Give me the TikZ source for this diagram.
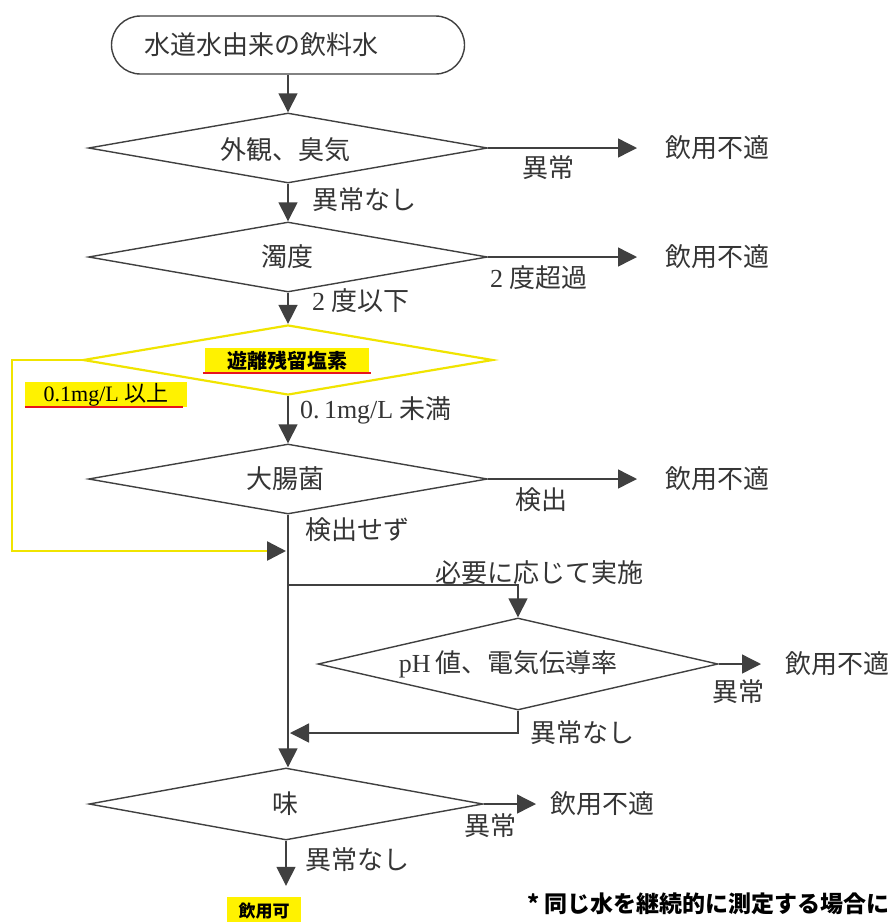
\documentclass[tikz,border=0pt]{standalone}
\usepackage{fontspec}
\setmainfont{Liberation Serif}
\newfontfamily\jp{Noto Sans CJK JP}
\usetikzlibrary{shapes.geometric,arrows.meta}
\definecolor{ln}{HTML}{404040}
\definecolor{tx}{HTML}{353535}
\definecolor{ylw}{HTML}{FFF200}
\definecolor{yline}{HTML}{F0E400}
\definecolor{redl}{HTML}{E8141E}
\begin{document}
\begin{tikzpicture}[x=1pt,y=-1pt,
  line/.style={draw=ln,line width=1.4pt},
  arr/.style={line,-{Triangle[length=19pt,width=19pt,color=ln]}},
  dia/.style={diamond,draw=ln,line width=1.4pt,inner sep=0pt},
  lab/.style={text=tx,inner sep=0pt,font=\fontsize{26}{28}\selectfont\jp},
  hl/.style={fill=ylw,inner sep=0pt,text=black},
  redu/.style={draw=redl,line width=2pt},
  yl/.style={draw=yline,line width=2.5pt}]
\useasboundingbox (0,0) rectangle (893,922);
\fill[white] (0,0) rectangle (893,922);

% start
\node[draw=ln,line width=1.4pt,rounded corners=29pt,minimum height=58pt,
  text width=287pt,inner xsep=33pt,align=left,text=tx,
  font=\fontsize{26}{28}\selectfont\jp] (st) at (288,45) {水道水由来の飲料水};

% diamonds
\node[dia,minimum width=399pt,minimum height=70pt] (d1) at (288,148) {};
\node[dia,minimum width=399pt,minimum height=70pt] (d2) at (288,257) {};
\node[dia,draw=yline,line width=2.2pt,minimum width=410pt,minimum height=70pt] (d3) at (288,360) {};
\node[dia,minimum width=399pt,minimum height=70pt] (d4) at (288,479) {};
\node[dia,minimum width=400pt,minimum height=92pt] (d5) at (518,664) {};
\node[dia,minimum width=394pt,minimum height=72pt] (d6) at (286,804) {};

\node[lab] (t1) at (285,150) {外観、臭気};
\node[lab] (t2) at (287,257) {濁度};
\node[lab] (t4) at (285,479) {大腸菌};
\node[lab] (t5) at (508,664) {{\rmfamily pH\,}値、電気伝導率};
\node[lab] (t6) at (285,804) {味};

% highlighted labels
\node[hl,minimum width=164pt,minimum height=25pt,font=\fontsize{20}{20}\selectfont\jp\bfseries] (t3) at (287,360.5) {遊離残留塩素};
\draw[redu] (t3.south west) ++(-2,0) -- ([xshift=2pt]t3.south east);
\node[hl,minimum width=162pt,minimum height=25pt,font=\fontsize{22}{22}\selectfont] (y1) at (106,394.5) {0.1mg/L {\jp 以上}};
\draw[redu] (y1.south west) -- ([xshift=-4pt]y1.south east);
\node[hl,minimum width=74pt,minimum height=28pt,font=\fontsize{17}{18}\selectfont\jp\bfseries] (ok) at (264,911) {飲用可};

% outcome nodes
\node[lab,anchor=west] (ng1) at (665,148) {飲用不適};
\node[lab,anchor=west] (ng2) at (665,257) {飲用不適};
\node[lab,anchor=west] (ng3) at (665,479) {飲用不適};
\node[lab,anchor=west] (ng4) at (785,664) {飲用不適};
\node[lab,anchor=west] (ng5) at (550,804) {飲用不適};

% edge labels
\node[lab] (l1) at (548,168) {異常};
\node[lab,anchor=west] (l2) at (312,200) {異常なし};
\node[lab,anchor=west] (l3) at (490,278) {{\rmfamily 2} 度超過};
\node[lab,anchor=west] (l4) at (312,301) {{\rmfamily 2} 度以下};
\node[lab,anchor=west] (l5) at (300,410) {{\rmfamily 0.\,1mg/L} 未満};
\node[lab] (l6) at (541,500) {検出};
\node[lab,anchor=west] (l7) at (305,530) {検出せず};
\node[lab,anchor=west] (l8) at (435,573) {必要に応じて実施};
\node[lab] (l9) at (738,692) {異常};
\node[lab,anchor=west] (l10) at (530,733) {異常なし};
\node[lab] (l11) at (490,826) {異常};
\node[lab,anchor=west] (l12) at (305,860) {異常なし};

% footnote (cut at the right edge, as in the reference)
\node[anchor=west,inner sep=0pt,text=black,font=\fontsize{23}{24}\selectfont\jp\bfseries] (fn) at (527,904) {*\ 同じ水を継続的に測定する場合に};

% junctions
\coordinate (j1) at (288,551);
\coordinate (j2) at (288,585);
\coordinate (j3) at (288,733);
\coordinate (yc) at (12,360);

% connectors
\draw[arr] (st.south) -- (d1.north);
\draw[arr] (d1.south) -- (d2.north);
\draw[arr] (d2.south) -- (d3.north);
\draw[arr] (d3.south) -- (d4.north);
\draw[arr] (d4.south) -- (d4.south |- d6.north);
\draw[arr,shorten >=11pt] (d6.south) -- (d6.south |- ok.north);

\draw[arr,shorten >=28pt] (d1.east) -- (ng1.west);
\draw[arr,shorten >=28pt] (d2.east) -- (ng2.west);
\draw[arr,shorten >=28pt] (d4.east) -- (ng3.west);
\draw[arr,shorten >=24pt] (d5.east) -- (ng4.west);
\draw[arr,shorten >=14pt] (d6.east) -- (ng5.west);

\draw[arr] (j2) -| (d5.north);
\draw[arr,shorten >=2pt] (d5.south) |- (j3);

\draw[yl,-{Triangle[length=19pt,width=19pt,color=ln]},shorten >=2pt] (d3.west) -- (yc) |- (j1);
\end{tikzpicture}
\end{document}
